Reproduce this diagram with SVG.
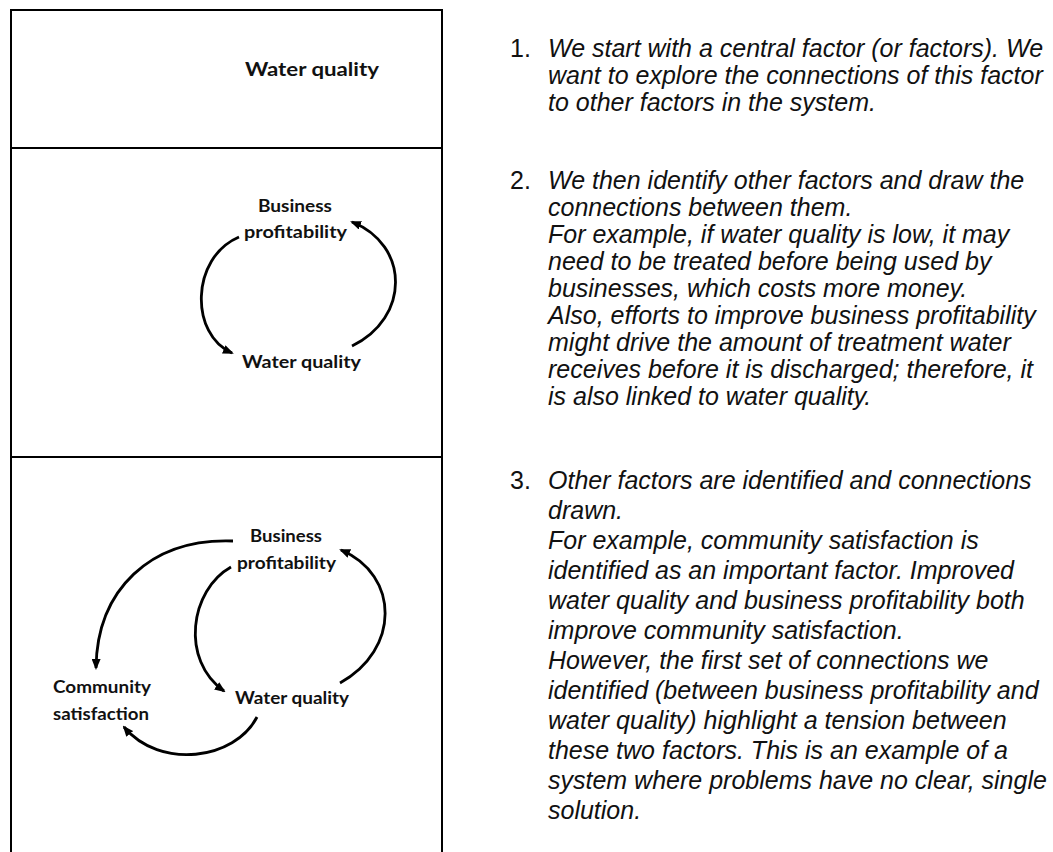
<svg xmlns="http://www.w3.org/2000/svg" width="1053" height="852" viewBox="0 0 1053 852">
  <style>
    .rule { stroke: #000; stroke-width: 2; fill: none; }
    .lbl { font-family: Lato, "Open Sans", "Liberation Sans", sans-serif; font-weight: bold; fill: #111; }
    .lbl18 { font-size: 19px; }
    .lbl16 { font-size: 16.5px; }
    .note { font-family: "Liberation Sans", Arial, sans-serif; font-size: 25px; font-style: italic; fill: #111; }
    .num { font-family: "Liberation Sans", Arial, sans-serif; font-size: 25px; fill: #111; }
    .link { stroke: #000; stroke-width: 2.8; fill: none; marker-end: url(#head); }
  </style>
  <defs>
    <marker id="head" markerUnits="userSpaceOnUse" markerWidth="11" markerHeight="9" refX="9" refY="4.5" orient="auto">
      <path d="M0,0 L11,4.5 L0,9 z" fill="#000"/>
    </marker>
  </defs>
  <rect width="1053" height="852" fill="#fff"/>

  <!-- table frame -->
  <g id="table">
    <path class="rule" d="M11,852 V10 H442 V852"/>
    <path class="rule" d="M11,148 H442"/>
    <path class="rule" d="M11,457 H442"/>
  </g>

  <!-- step 1 -->
  <g id="s1-water">
    <text class="lbl lbl18" x="245" y="76" textLength="134" lengthAdjust="spacingAndGlyphs">Water quality</text>
  </g>

  <!-- step 2 -->
  <g id="s2-business">
    <text class="lbl lbl16" x="258" y="212" textLength="74" lengthAdjust="spacingAndGlyphs">Business</text>
    <text class="lbl lbl16" x="244" y="238" textLength="103" lengthAdjust="spacingAndGlyphs">profitability</text>
  </g>
  <g id="s2-water">
    <text class="lbl lbl16" x="242" y="368" textLength="119" lengthAdjust="spacingAndGlyphs">Water quality</text>
  </g>

  <!-- step 3 -->
  <g id="s3-business">
    <text class="lbl lbl16" x="250" y="542" textLength="72" lengthAdjust="spacingAndGlyphs">Business</text>
    <text class="lbl lbl16" x="237" y="569" textLength="99" lengthAdjust="spacingAndGlyphs">profitability</text>
  </g>
  <g id="s3-community">
    <text class="lbl lbl16" x="53" y="693" textLength="98" lengthAdjust="spacingAndGlyphs">Community</text>
    <text class="lbl lbl16" x="53" y="720" textLength="96" lengthAdjust="spacingAndGlyphs">satisfaction</text>
  </g>
  <g id="s3-water">
    <text class="lbl lbl16" x="235" y="704" textLength="114" lengthAdjust="spacingAndGlyphs">Water quality</text>
  </g>

  <!-- connectors -->
  <g id="connectors">
    <path class="link" d="M239,237 C190,258 190,335 232,353"/>
    <path class="link" d="M352,346 C410,318 410,245 352,222"/>
    <path class="link" d="M233,541 C150,538 97,590 96,668"/>
    <path class="link" d="M231,567 C190,590 180,660 224,691"/>
    <path class="link" d="M340,683 C400,650 400,575 341,550"/>
    <path class="link" d="M257,717 C235,760 160,770 124,727"/>
  </g>

  <!-- explanatory notes -->
  <g id="notes">
    <text class="num" x="510" y="57">1.</text>
    <text class="note" x="548" y="57">We start with a central factor (or factors). We</text>
    <text class="note" x="548" y="84">want to explore the connections of this factor</text>
    <text class="note" x="548" y="111">to other factors in the system.</text>

    <text class="num" x="510" y="189">2.</text>
    <text class="note" x="548" y="189">We then identify other factors and draw the</text>
    <text class="note" x="548" y="216">connections between them.</text>
    <text class="note" x="548" y="243">For example, if water quality is low, it may</text>
    <text class="note" x="548" y="270">need to be treated before being used by</text>
    <text class="note" x="548" y="297">businesses, which costs more money.</text>
    <text class="note" x="548" y="324">Also, efforts to improve business profitability</text>
    <text class="note" x="548" y="351">might drive the amount of treatment water</text>
    <text class="note" x="548" y="378">receives before it is discharged; therefore, it</text>
    <text class="note" x="548" y="405">is also linked to water quality.</text>

    <text class="num" x="510" y="489">3.</text>
    <text class="note" x="548" y="489">Other factors are identified and connections</text>
    <text class="note" x="548" y="519">drawn.</text>
    <text class="note" x="548" y="549">For example, community satisfaction is</text>
    <text class="note" x="548" y="579">identified as an important factor. Improved</text>
    <text class="note" x="548" y="609">water quality and business profitability both</text>
    <text class="note" x="548" y="639">improve community satisfaction.</text>
    <text class="note" x="548" y="669">However, the first set of connections we</text>
    <text class="note" x="548" y="699">identified (between business profitability and</text>
    <text class="note" x="548" y="729">water quality) highlight a tension between</text>
    <text class="note" x="548" y="759">these two factors. This is an example of a</text>
    <text class="note" x="548" y="789">system where problems have no clear, single</text>
    <text class="note" x="548" y="819">solution.</text>
  </g>
</svg>
